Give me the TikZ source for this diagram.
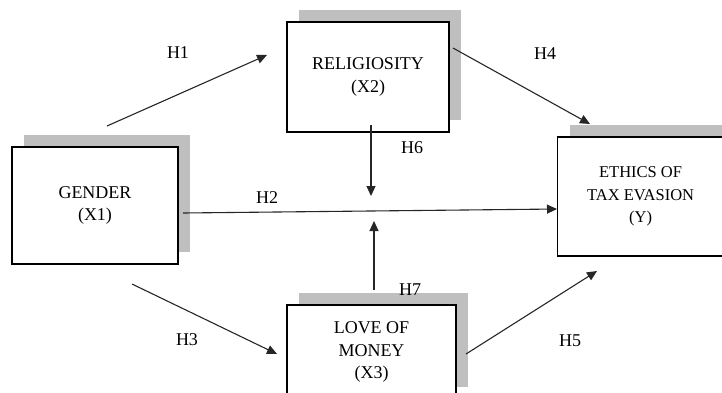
\documentclass[tikz,border=0pt]{standalone}
\usepackage{fontspec}
\setmainfont{Liberation Serif}
\usetikzlibrary{arrows.meta,shadows}

\begin{document}
\begin{tikzpicture}[x=1pt,y=-1pt,>={Triangle[length=10pt,width=9pt]},
	var/.style={draw,line width=1.2pt,fill=white,align=center,font=\fontsize{18}{22.5}\selectfont,
		drop shadow={shadow xshift=12pt,shadow yshift=12pt,fill=black!25,opacity=1}},
	hyp/.style={font=\fontsize{18}{22}\selectfont},
	link/.style={->,line width=1.1pt,draw=black!85}]
	\path[use as bounding box,clip](0,0) rectangle (722,392);
	\node[var,minimum width=166pt,minimum height=117pt](gender) at (95,205.5) {GENDER\\(X1)};
	\node[var,minimum width=162pt,minimum height=110pt](relig) at (368,77) {RELIGIOSITY\\(X2)};
	\node[var,minimum width=169pt,minimum height=94pt](money) at (371.5,352) {LOVE OF\\MONEY\\(X3)};
	% box runs past the right edge, so the text is put by a label
	\node[var,minimum width=200pt,minimum height=119pt,anchor=west,
		label={[align=center,font=\fontsize{16.5}{22.5}\selectfont,xshift=-17pt]center:ETHICS OF\\TAX EVASION\\(Y)}](ethics) at (557,196.5) {};
	\coordinate (a1) at (107,126); \coordinate (b1) at (267,55);
	\coordinate (a2) at (183,213); \coordinate (b2) at (ethics.west |- 0,209);
	\coordinate (a3) at (132,284); \coordinate (b3) at (277,354);
	\coordinate (a4) at (453,48);  \coordinate (b4) at (590,124);
	\coordinate (a5) at (466,354); \coordinate (b5) at (597,271);
	\coordinate (a6) at (371,125); \coordinate (b6) at (371,196);
	\coordinate (a7) at (374,290); \coordinate (b7) at (374,221);
	\foreach \i in {1,...,7} \draw[link](a\i)--(b\i);
	\node[hyp](h1) at (178,53) {H1};
	\node[hyp](h2) at (267,198) {H2};
	\node[hyp](h3) at (187,340) {H3};
	\node[hyp](h4) at (545,54) {H4};
	\node[hyp](h5) at (570,341) {H5};
	\node[hyp](h6) at (412,148) {H6};
	\node[hyp](h7) at (410,290) {H7};
\end{tikzpicture}
\end{document}
